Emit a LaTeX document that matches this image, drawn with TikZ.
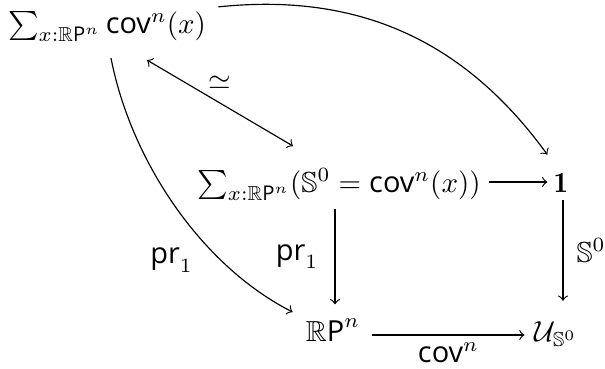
\documentclass[tikz,border=0pt]{standalone}
\usepackage{amsmath,amssymb}
\usepackage{fontspec}
\setsansfont{Open Sans}
\usetikzlibrary{calc}
\newcommand{\sfx}[1]{\text{\sffamily #1}}
\begin{document}
\begin{tikzpicture}[x=0.345pt,y=0.345pt,
  obj/.style={anchor=base, inner sep=2pt},
  lbl/.style={inner sep=1.5pt},
  every path/.style={line width=0.4pt}]
\useasboundingbox (0,0) rectangle (605,368);
\node[obj] (A) at (107,335) {$\sum_{x:\mathbb{R}\sfx{P}^n} \sfx{cov}^n(x)$};
\node[obj] (B) at (339,176) {$\sum_{x:\mathbb{R}\sfx{P}^n}(\mathbb{S}^0 = \sfx{cov}^n(x))$};
\node[obj] (C) at (561,176) {$\mathbf{1}$};
\node[obj] (D) at (333,27) {$\mathbb{R}\sfx{P}^n$};
\node[obj] (E) at (556,27) {$\mathcal{U}_{\mathbb{S}^0}$};
% horizontal arrows
\draw[->] ($(B.base east)+(2,10)$) -- ($(C.base west)+(0,10)$);
\draw[->] ($(D.base east)+(6,6)$) -- ($(E.base west)+(-4,6)$)
  node[midway, below=1pt, lbl] {$\sfx{cov}^n$};
% vertical arrows
\draw[->] ($(B.south)+(-4,-2)$) -- ($(D.north)+(2,8)$)
  node[midway, left=4pt, lbl] {$\sfx{pr}_1$};
\draw[->] ($(C.south)+(2,-2)$) -- ($(C.south |- E.north)+(2,14)$)
  node[midway, right=3pt, lbl] {$\mathbb{S}^0$};
% iso
\draw[<->] ($(A.south)+(40,-12)$) -- ($(B.north)+(-46,16)$)
  node[midway, above=3pt, lbl] {$\simeq$};
% curves
\draw[->] ($(A.north east)+(6,-2)$) to[out=6,in=126] ($(C.north west)+(0,12)$);
\draw[->] ($(A.south)+(4,-10)$) to[out=-79,in=153,looseness=0.85]
  node[pos=0.72, left=8pt, lbl] {$\sfx{pr}_1$} ($(D.base west)+(-7,29)$);
\end{tikzpicture}
\end{document}
